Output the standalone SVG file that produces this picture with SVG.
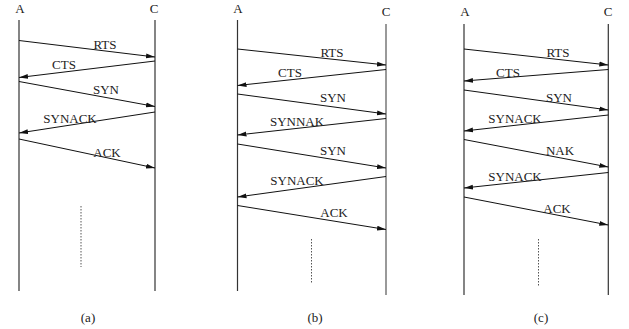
<svg xmlns="http://www.w3.org/2000/svg" width="629" height="329" viewBox="0 0 629 329">
<style>
text{font-family:"Liberation Serif","Times New Roman",serif;font-size:13px;fill:#222;text-anchor:middle}
.life{stroke:#333;stroke-width:1.2;fill:none}
.msg{stroke:#111;stroke-width:1;fill:none;marker-end:url(#ah)}
.dot{stroke:#555;stroke-width:1;stroke-dasharray:1.5 1.5;fill:none}
</style>
<defs>
<marker id="ah" markerUnits="userSpaceOnUse" markerWidth="10" markerHeight="6" refX="9" refY="3" orient="auto">
<path d="M0,0.6 L9,3 L0,5.4 Z" fill="#111"/>
</marker>
</defs>
<rect width="629" height="329" fill="#fff"/>
<g id="panel-a">
<g id="a-A"><text x="20" y="13">A</text><line class="life" x1="19" y1="20" x2="19" y2="291"/></g>
<g id="a-C"><text x="154" y="13">C</text><line class="life" x1="155" y1="20" x2="155" y2="291"/></g>
<g id="a-connectors">
<line class="msg" x1="19" y1="40.5" x2="155" y2="57"/>
<line class="msg" x1="155" y1="61" x2="19" y2="77.5"/>
<line class="msg" x1="19" y1="81.5" x2="155" y2="106.5"/>
<line class="msg" x1="155" y1="112" x2="19" y2="133"/>
<line class="msg" x1="19" y1="139" x2="155" y2="168"/>
<line class="dot" x1="81" y1="206" x2="81" y2="267"/>
</g>
<text x="105" y="49">RTS</text>
<text x="64" y="69">CTS</text>
<text x="106" y="94">SYN</text>
<text x="70" y="123">SYNACK</text>
<text x="107" y="157">ACK</text>
<text x="88" y="322">(a)</text>
</g>
<g id="panel-b">
<g id="b-A"><text x="238" y="13">A</text><line class="life" x1="237.5" y1="20" x2="237.5" y2="291"/></g>
<g id="b-C"><text x="386" y="16">C</text><line class="life" x1="386" y1="24" x2="386" y2="295" style="stroke:#555"/></g>
<g id="b-connectors">
<line class="msg" x1="237.5" y1="49" x2="386" y2="65"/>
<line class="msg" x1="386" y1="69.5" x2="237.5" y2="85.5"/>
<line class="msg" x1="237.5" y1="94" x2="386" y2="114"/>
<line class="msg" x1="386" y1="118.5" x2="237.5" y2="135"/>
<line class="msg" x1="237.5" y1="144" x2="386" y2="168"/>
<line class="msg" x1="386" y1="176.5" x2="237.5" y2="197"/>
<line class="msg" x1="237.5" y1="205.5" x2="386" y2="229.5"/>
<line class="dot" x1="311.5" y1="239" x2="311.5" y2="283"/>
</g>
<text x="332" y="57">RTS</text>
<text x="290" y="77">CTS</text>
<text x="333" y="102">SYN</text>
<text x="297" y="126">SYNNAK</text>
<text x="333" y="155">SYN</text>
<text x="297" y="185">SYNACK</text>
<text x="334" y="217">ACK</text>
<text x="315" y="322">(b)</text>
</g>
<g id="panel-c">
<g id="c-A"><text x="465" y="16">A</text><line class="life" x1="464" y1="24" x2="464" y2="295"/></g>
<g id="c-C"><text x="608" y="16">C</text><line class="life" x1="608.3" y1="24" x2="608.3" y2="295"/></g>
<g id="c-connectors">
<line class="msg" x1="464" y1="49" x2="608.3" y2="65"/>
<line class="msg" x1="608.3" y1="69.5" x2="464" y2="81"/>
<line class="msg" x1="464" y1="90" x2="608.3" y2="110"/>
<line class="msg" x1="608.3" y1="115" x2="464" y2="131"/>
<line class="msg" x1="464" y1="139.5" x2="608.3" y2="167"/>
<line class="msg" x1="608.3" y1="172.5" x2="464" y2="188"/>
<line class="msg" x1="464" y1="197" x2="608.3" y2="225"/>
<line class="dot" x1="538.5" y1="239" x2="538.5" y2="286"/>
</g>
<text x="558" y="57">RTS</text>
<text x="508" y="77">CTS</text>
<text x="559" y="102">SYN</text>
<text x="515" y="123">SYNACK</text>
<text x="560" y="155">NAK</text>
<text x="515" y="181">SYNACK</text>
<text x="557" y="213">ACK</text>
<text x="541" y="322">(c)</text>
</g>
</svg>
